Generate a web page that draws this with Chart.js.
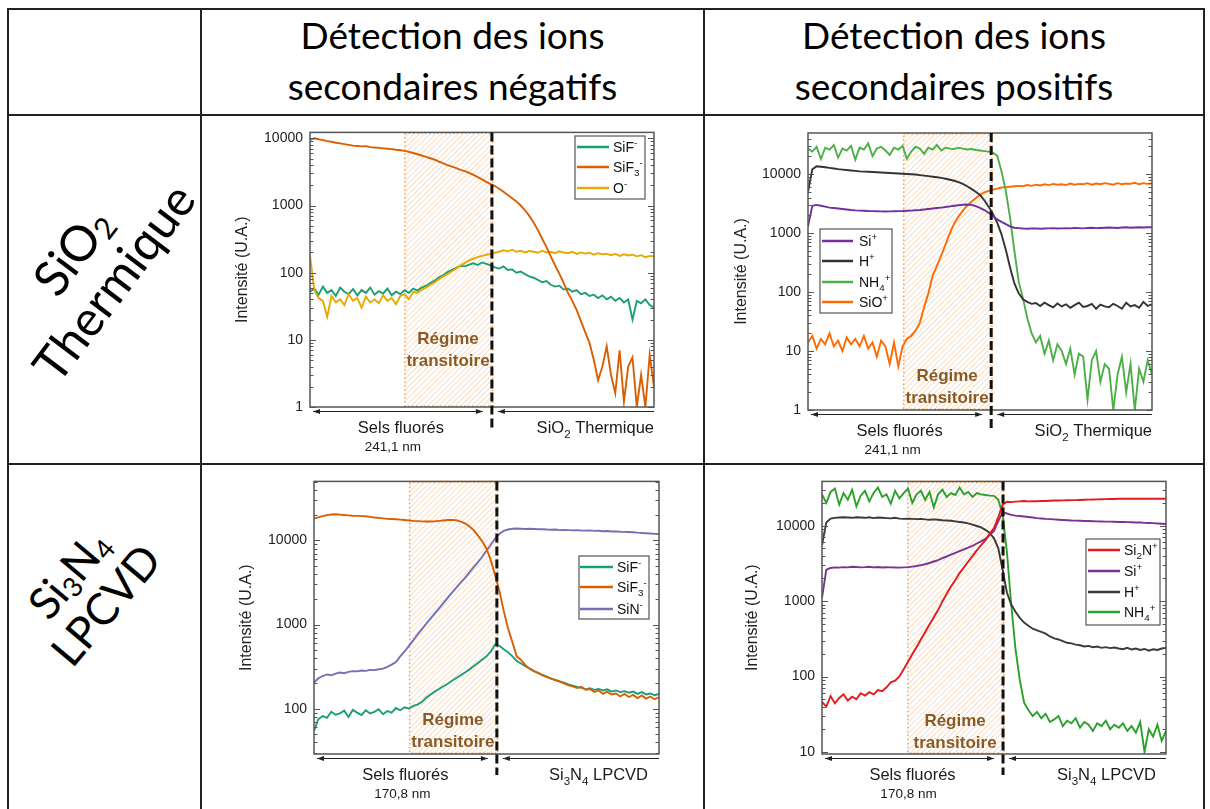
<!DOCTYPE html>
<html><head><meta charset="utf-8">
<script src="https://cdn.jsdelivr.net/npm/chart.js@4.4.0/dist/chart.umd.min.js"></script>
<style>
html,body{margin:0;padding:0;background:#fff;}
body{width:1210px;height:809px;overflow:hidden;position:relative;font-family:Lato,sans-serif;color:#000;}
.hl{position:absolute;background:#222;height:2px}
.vl{position:absolute;background:#222;width:2px}
.hdr{position:absolute;text-align:center;font-size:37px;line-height:51px;white-space:nowrap}
.side{position:absolute;width:320px;height:100px;font-size:44px;line-height:48px;text-align:center;transform:rotate(-50deg);white-space:nowrap}
.side.s1{height:104px;font-size:49px;line-height:52px;transform:rotate(-53deg)}
.side sub{font-size:0.62em;vertical-align:-0.18em;line-height:0}
canvas{position:absolute}
</style></head>
<body>
<div class="hl" style="left:7px;top:8px;width:1198px"></div>
<div class="hl" style="left:7px;top:114px;width:1198px"></div>
<div class="hl" style="left:7px;top:463px;width:1198px"></div>
<div class="vl" style="left:7px;top:8px;height:801px"></div>
<div class="vl" style="left:200px;top:8px;height:801px"></div>
<div class="vl" style="left:703px;top:8px;height:801px"></div>
<div class="vl" style="left:1203px;top:8px;height:801px"></div>
<div class="hdr" style="left:202px;width:501px;top:9px">Détection des ions<br>secondaires négatifs</div>
<div class="hdr" style="left:705px;width:498px;top:9px">Détection des ions<br>secondaires positifs</div>
<div class="side s1" style="left:-68px;top:214px">SiO<sub>2</sub><br>Thermique</div>
<div class="side" style="left:-72px;top:540px">Si<sub>3</sub>N<sub>4</sub><br>LPCVD</div>
<script>
// ---------- DATA (sample index 0..80 along the sputtering depth) ----------
const Y_TITLE = 'Intensité (U.A.)';
const P1_LABELS = ['SiF^-', 'SiF_3^-', 'O^-'];
const P1_SIF = [52,58,47,62,50,55,45,60,52,48,
 57,46,55,50,60,47,53,49,58,46,
 52,48,55,50,58,54,60,64,70,76,
 85,92,102,110,118,126,124,132,138,130,
 142,135,128,120,115,124,110,112,100,104,
 95,88,84,78,72,75,66,62,64,56,
 58,52,55,48,50,45,47,42,46,40,
 44,38,42,36,40,20,38,35,40,33,
 30];
const P1_SIF3 = [9500,10000,9700,9400,9100,8900,8600,8400,8200,8000,
 7800,7700,7600,7650,7400,7300,7200,7100,7000,6900,
 6750,6650,6500,6300,6050,5800,5550,5300,5050,4800,
 4500,4250,4000,3800,3600,3400,3250,3050,2850,2650,
 2450,2250,2080,1950,1780,1600,1430,1280,1150,1000,
 850,700,560,430,320,240,175,128,96,70,
 50,38,28,19,13,9,5,2.5,4,8,
 3,1.6,7,1.2,4,5.5,1,3,1,6,
 2];
const P1_O = [180,55,42,38,22,45,36,40,33,48,
 38,42,30,44,36,40,35,46,38,42,
 34,45,48,40,52,50,56,60,66,72,
 80,88,96,105,115,128,140,152,162,170,
 178,185,190,198,205,215,208,220,205,212,
 200,210,205,198,212,200,205,195,208,200,
 195,205,190,200,192,198,185,195,188,190,
 182,190,178,188,180,185,175,182,170,178,
 175];
const P1_TRANSITION = [21.9, 42.3];   // start of transient regime, interface
const P1_THICKNESS = '241,1 nm';

const P2_LABELS = ['Si^+', 'H^+', 'NH_4^+', 'SiO^+'];
const P2_SI = [1300,2900,3000,2900,2800,2700,2650,2600,2550,2500,
 2450,2420,2400,2380,2360,2350,2340,2330,2320,2330,
 2340,2350,2360,2380,2400,2430,2460,2500,2550,2600,
 2650,2700,2760,2830,2900,2960,3020,3050,3000,2850,
 2670,2450,2200,1950,1700,1550,1420,1300,1230,1210,
 1190,1180,1190,1200,1180,1190,1200,1210,1190,1200,
 1210,1200,1220,1210,1200,1220,1230,1210,1220,1230,
 1240,1230,1220,1240,1250,1230,1240,1250,1240,1250,
 1250];
const P2_H = [5000,12000,13500,13300,13000,12700,12400,12100,11900,11700,
 11500,11300,11100,11000,10900,10800,10700,10600,10500,10400,
 10300,10200,10100,10000,9900,9800,9600,9400,9200,9000,
 8800,8600,8300,8000,7700,7300,6800,6200,5600,5000,
 4400,3600,2800,2100,1500,950,520,260,140,95,
 75,68,63,65,58,66,60,55,64,57,
 62,54,60,66,56,58,63,52,61,57,
 55,63,58,52,66,57,60,54,68,58,
 62];
const P2_NH4 = [27000,24000,29000,18000,28000,26000,31000,19000,27000,25000,
 30000,17500,28000,26000,33000,20000,27000,29000,25000,21000,
 28000,26000,30000,18000,24000,29000,27000,22000,28000,26000,
 31000,25000,28000,27000,26500,28000,27000,26000,26500,25500,
 25000,24500,24000,23000,20500,11000,5200,1800,500,150,
 78,36,20,14,18,9,15,7,13,10,
 6,11,4,9,8,1.5,7,10,3,6,
 5,1,4,8,2,6,1,5,3,7,
 4];
const P2_SIO = [14,18,11,16,13,20,12,15,10,17,
 13,16,12,18,11,14,8,15,12,6,
 14,5.5,12,16,18,22,30,55,95,190,
 280,420,640,1000,1450,1900,2400,2900,3380,3900,
 4400,4900,5200,5450,5650,5900,6000,6100,6200,6300,
 6200,6500,6300,6600,6400,6700,6500,6800,6600,6700,
 6500,6900,6600,6800,6700,7000,6600,6900,6700,7000,
 6800,6600,7000,6700,6900,6800,7100,6700,7000,6800,
 6900];
const P2_TRANSITION = [22.1, 42.6];
const P2_THICKNESS = '241,1 nm';

const P3_LABELS = ['SiF^-', 'SiF_3^-', 'SiN^-'];
const P3_SIF = [55,75,82,78,92,85,88,95,80,97,
 90,84,96,88,92,99,86,94,90,102,
 96,104,100,108,112,120,135,148,160,172,
 185,198,215,232,250,270,292,320,350,385,
 420,480,580,560,510,470,420,370,345,320,
 300,280,268,252,240,228,220,212,205,195,
 188,182,178,170,175,168,172,165,170,160,
 165,158,162,155,160,150,158,148,152,145,
 150];
const P3_SIF3 = [18200,18800,19500,20000,20400,20500,20300,20100,19900,19700,
 19600,19500,19400,19100,18800,18600,18300,18100,18000,17900,
 17700,17500,17300,17100,17000,16900,16800,16800,16900,17100,
 17300,17500,17600,17400,16800,16000,14800,13300,11500,9800,
 8000,5800,3900,2500,1450,900,620,420,380,330,
 300,280,265,250,240,228,218,210,200,190,
 185,176,182,168,172,158,165,150,160,148,
 152,140,150,138,146,134,144,132,140,130,
 137];
const P3_SIN = [205,230,245,256,250,262,270,265,275,280,
 278,285,282,290,288,295,300,315,335,360,
 420,480,560,650,760,880,1020,1180,1360,1560,
 1800,2080,2400,2750,3150,3600,4150,4800,5500,6400,
 7600,8900,10500,12000,13000,13500,13800,13900,13800,13700,
 13800,13700,13600,13650,13500,13400,13500,13300,13350,13300,
 13200,13300,13150,13100,13200,13000,13050,12900,12950,12800,
 12800,12700,12650,12600,12550,12400,12300,12200,12100,12000,
 11960];
const P3_TRANSITION = [22.0, 42.4];
const P3_THICKNESS = '170,8 nm';

const P4_LABELS = ['Si_2N^+', 'Si^+', 'H^+', 'NH_4^+'];
const P4_SI2N = [46,40,55,44,52,58,48,54,50,60,
 56,62,58,66,64,72,84,88,100,125,
 157,197,247,310,390,488,610,760,990,1250,
 1560,1900,2350,2800,3350,3950,4700,5500,6380,7800,
 9300,13000,19000,20700,20500,20800,21000,21200,21000,21100,
 21100,21300,21200,21400,21500,21500,21600,21700,21800,21800,
 21900,22000,22100,22200,22300,22400,22500,22600,22600,22700,
 22700,22700,22700,22800,22700,22700,22800,22700,22700,22700,
 22700];
const P4_SI = [1100,2600,2750,2800,2780,2820,2800,2850,2830,2800,
 2820,2850,2800,2830,2790,2810,2800,2790,2780,2800,
 2820,2860,2920,3000,3080,3200,3350,3500,3700,3900,
 4120,4350,4600,4850,5100,5400,5800,6200,6700,7500,
 8600,11500,15000,14500,13900,13600,13400,13200,13000,12800,
 12600,12450,12300,12200,12100,12000,11900,11800,11700,11650,
 11600,11550,11500,11450,11400,11350,11300,11300,11250,11200,
 11200,11150,11100,11000,11000,10900,10850,10800,10700,10600,
 10500];
const P4_H = [5500,11000,12400,12700,12800,12900,12800,12700,12900,12800,
 12700,12900,12600,12800,12700,12600,12500,12700,12400,12300,
 12400,12300,12200,12300,12100,12000,12100,11950,11800,11700,
 11600,11400,11200,11000,10700,10300,9900,9500,8800,8000,
 6800,5000,2600,1300,900,720,600,520,470,430,
 410,390,370,340,320,310,295,280,275,265,
 260,250,255,245,250,240,245,238,242,235,
 230,240,228,235,225,232,220,230,225,235,
 240];
const P4_NH4 = [26000,20000,28000,31000,19000,27000,22000,30000,18000,25000,
 29000,21000,27000,32000,24000,26000,19500,29000,23000,27000,
 31000,20000,26000,29000,22000,28000,17500,26000,30000,24000,
 27000,25500,32000,26000,28000,24000,27000,26000,25500,25000,
 24800,22000,14000,4500,900,230,90,45,36,30,
 34,28,32,25,27,30,22,26,24,28,
 21,25,23,19,24,22,26,20,23,21,
 24,19,22,18,25,10,20,16,23,14,
 19];
const P4_TRANSITION = [19.8, 42.1];
const P4_THICKNESS = '170,8 nm';

const TICKS_FULL = [1, 10, 100, 1000, 10000];
const TICKS_P3 = [100, 1000, 10000];
const TICKS_P4 = [10, 100, 1000, 10000];

// ---------- rendering helpers ----------
const AX_FONT = "'Liberation Sans', Arial, sans-serif";
function richParts(s){
  const parts=[]; let buf=''; let i=0;
  while(i<s.length){
    const c=s[i];
    if((c==='_'||c==='^') && i+1<s.length){
      if(buf){parts.push({t:buf,k:'n'});buf='';}
      parts.push({t:s[i+1],k:c==='_'?'sub':'sup'}); i+=2;
    } else {buf+=c;i++;}
  }
  if(buf) parts.push({t:buf,k:'n'});
  return parts;
}
function drawRich(ctx, s, x, yMid, align, size, weight){
  const parts=richParts(s);
  const small=size*0.7;
  const fN=(weight||'normal')+' '+size+'px '+AX_FONT;
  const fS=(weight||'normal')+' '+small+'px '+AX_FONT;
  let w=0;
  parts.forEach(p=>{ctx.font=p.k==='n'?fN:fS; p.w=ctx.measureText(p.t).width; w+=p.w;});
  let cx = align==='center' ? x-w/2 : (align==='right' ? x-w : x);
  const base = yMid + size*0.36;
  ctx.textAlign='left'; ctx.textBaseline='alphabetic';
  parts.forEach(p=>{
    ctx.font=p.k==='n'?fN:fS;
    const dy = p.k==='sub' ? size*0.28 : (p.k==='sup' ? -size*0.42 : 0);
    ctx.fillText(p.t, cx, base+dy); cx+=p.w;
  });
}
function arrowHead(ctx,x,y,dir){
  ctx.beginPath(); ctx.moveTo(x,y); ctx.lineTo(x-dir*7,y-2.6); ctx.lineTo(x-dir*7,y+2.6); ctx.closePath(); ctx.fill();
}

function panelPlugin(cfg){
  return {
    id:'panelDeco',
    beforeDatasetsDraw(chart){
      const {ctx, chartArea:a, scales:{x}} = chart;
      const x0=x.getPixelForValue(cfg.transition[0]), x1=x.getPixelForValue(cfg.transition[1]);
      const h=a.bottom-a.top;
      ctx.save();
      ctx.beginPath(); ctx.rect(x0,a.top,x1-x0,h); ctx.clip();
      ctx.strokeStyle='#f8d1ae'; ctx.lineWidth=1;
      for(let s=x0-h; s<x1; s+=5.5){ctx.beginPath(); ctx.moveTo(s,a.bottom); ctx.lineTo(s+h,a.top); ctx.stroke();}
      ctx.restore();
      ctx.save(); ctx.setLineDash([1.5,2.5]); ctx.strokeStyle='#f2a55a'; ctx.lineWidth=1.5;
      ctx.strokeRect(x0+0.75,a.top+0.75,x1-x0,h-1.5); ctx.restore();
    },
    afterDatasetsDraw(chart){
      const {ctx, chartArea:a, scales:{x,y}} = chart;
      const xi=x.getPixelForValue(cfg.transition[1]);
      const x0=x.getPixelForValue(cfg.transition[0]);
      ctx.save();
      ctx.strokeStyle='#555'; ctx.lineWidth=1.5;
      ctx.strokeRect(a.left,a.top,a.right-a.left,a.bottom-a.top);
      ctx.lineWidth=1;
      const lo=Math.floor(Math.log10(y.min)), hi=Math.ceil(Math.log10(y.max));
      for(let d=lo; d<=hi; d++){
        for(let m=1; m<=9; m++){
          const v=m*Math.pow(10,d);
          if(v<y.min*0.999||v>y.max*1.001) continue;
          const py=Math.round(y.getPixelForValue(v))+0.5;
          const L = m===1?6:3.5;
          ctx.beginPath(); ctx.moveTo(a.left,py); ctx.lineTo(a.left+L,py);
          ctx.moveTo(a.right,py); ctx.lineTo(a.right-L,py); ctx.stroke();
        }
      }
      ctx.strokeStyle='#111'; ctx.lineWidth=3; ctx.setLineDash([9,4]);
      ctx.beginPath(); ctx.moveTo(xi,a.top); ctx.lineTo(xi,a.bottom+21); ctx.stroke();
      ctx.setLineDash([]);
      ctx.fillStyle='#8a5a24';
      drawRich(ctx,'Régime',(x0+xi)/2,a.bottom+cfg.regimeDy[0],'center',17,'bold');
      drawRich(ctx,'transitoire',(x0+xi)/2,a.bottom+cfg.regimeDy[1],'center',17,'bold');
      const L=cfg.legend, ox=chart.canvas.offsetLeft, oy=chart.canvas.offsetTop;
      ctx.fillStyle='#fff'; ctx.fillRect(L.x-ox,L.y-oy,L.w,L.h);
      ctx.strokeStyle='#555'; ctx.lineWidth=1.2; ctx.strokeRect(L.x-ox,L.y-oy,L.w,L.h);
      chart.data.datasets.forEach((ds,i)=>{
        const ry=L.rows[i]-oy;
        ctx.strokeStyle=ds.borderColor; ctx.lineWidth=2.5;
        ctx.beginPath(); ctx.moveTo(L.l0-ox,ry); ctx.lineTo(L.l1-ox,ry); ctx.stroke();
        ctx.fillStyle='#111';
        drawRich(ctx,ds.label,L.tx-ox,ry,'left',14);
      });
      ctx.strokeStyle='#222'; ctx.fillStyle='#222'; ctx.lineWidth=1;
      const ay=a.bottom+4.5;
      ctx.beginPath(); ctx.moveTo(a.left+3,ay); ctx.lineTo(xi-9,ay);
      ctx.moveTo(xi+6,ay); ctx.lineTo(a.right,ay); ctx.stroke();
      arrowHead(ctx,a.left+3,ay,-1); arrowHead(ctx,xi-9,ay,1); arrowHead(ctx,xi+6,ay,-1);
      ctx.fillStyle='#1a1a1a';
      drawRich(ctx,'Sels fluorés',(a.left+xi)/2,a.bottom+20,'center',16.5);
      drawRich(ctx,cfg.thickness,(a.left+xi)/2+cfg.nmDx,a.bottom+39,'center',13.5);
      drawRich(ctx,cfg.layer,a.right+cfg.layerDx,a.bottom+20,'right',16.5);
      ctx.restore();
    }
  };
}

function makePanel(cfg){
  const c=document.createElement('canvas');
  c.width=cfg.box.w; c.height=cfg.box.h;
  c.style.left=cfg.box.left+'px'; c.style.top=cfg.box.top+'px';
  c.style.width=cfg.box.w+'px'; c.style.height=cfg.box.h+'px';
  document.body.appendChild(c);
  const A=cfg.area, B=cfg.box, PL=12;
  new Chart(c,{
    type:'line',
    data:{datasets:cfg.series.map(s=>({
      label:s.label, data:s.values.map((v,i)=>({x:i,y:v})),
      borderColor:s.color, backgroundColor:s.color, borderWidth:1.9,
      pointRadius:0, tension:0, fill:false, order:s.order||0
    }))},
    options:{
      responsive:false, animation:false, devicePixelRatio:1,
      layout:{padding:{left:PL, top:A.top-B.top, right:(B.left+B.w)-A.right, bottom:(B.top+B.h)-A.bottom}},
      scales:{
        x:{type:'linear', min:0, max:80, display:false},
        y:{type:'logarithmic', min:cfg.yMin, max:cfg.yMax,
           grid:{display:false, drawTicks:false}, border:{display:false},
           ticks:{padding:7, color:'#222', font:{family:AX_FONT, size:14}, autoSkip:false, callback:v=>String(v)},
           afterBuildTicks:s=>{ s.ticks = cfg.ticks.map(v=>({value:v})); },
           afterFit:s=>{ s.width = A.left-B.left-PL; },
           title:{display:true, text:Y_TITLE, color:'#222', font:{family:AX_FONT, size:16},
                  padding:{top:cfg.titleX-B.left-PL-9.6, bottom:0}}
        }
      },
      plugins:{legend:{display:false}, tooltip:{enabled:false}}
    },
    plugins:[panelPlugin(cfg)]
  });
}

makePanel({
  box:{left:203,top:117,w:500,h:346}, area:{left:310,top:130,right:654,bottom:407}, titleX:243,
  yMin:1, yMax:12260, ticks:TICKS_FULL, transition:P1_TRANSITION, regimeDy:[-69,-47],
  thickness:P1_THICKNESS, nmDx:-8, layer:'SiO_2 Thermique', layerDx:0,
  legend:{x:575,y:136,w:70,h:63,l0:577,l1:609,tx:613,rows:[147,167,188]},
  series:[
    {label:P1_LABELS[0], values:P1_SIF, color:'#1b9e77', order:1},
    {label:P1_LABELS[1], values:P1_SIF3, color:'#d95f02', order:0},
    {label:P1_LABELS[2], values:P1_O, color:'#e6ab02', order:0}
  ]
});
makePanel({
  box:{left:706,top:117,w:497,h:346}, area:{left:808,top:133,right:1152,bottom:410}, titleX:742,
  yMin:1, yMax:49600, ticks:TICKS_FULL, transition:P2_TRANSITION, regimeDy:[-35,-13],
  thickness:P2_THICKNESS, nmDx:-7, layer:'SiO_2 Thermique', layerDx:0,
  legend:{x:820,y:229,w:72,h:84,l0:822,l1:853,tx:859,rows:[241,261,282,302]},
  series:[
    {label:P2_LABELS[0], values:P2_SI, color:'#7030a0'},
    {label:P2_LABELS[1], values:P2_H, color:'#333333'},
    {label:P2_LABELS[2], values:P2_NH4, color:'#4caf47'},
    {label:P2_LABELS[3], values:P2_SIO, color:'#ff6a00'}
  ]
});
makePanel({
  box:{left:203,top:466,w:500,h:343}, area:{left:314,top:477,right:659,bottom:754}, titleX:247,
  yMin:29, yMax:50400, ticks:TICKS_P3, transition:P3_TRANSITION, regimeDy:[-35,-13],
  thickness:P3_THICKNESS, nmDx:-3, layer:'Si_3N_4 LPCVD', layerDx:-11,
  legend:{x:579,y:556,w:70,h:63,l0:580,l1:613,tx:617,rows:[567,587,609]},
  series:[
    {label:P3_LABELS[0], values:P3_SIF, color:'#1b9e77', order:1},
    {label:P3_LABELS[1], values:P3_SIF3, color:'#d95f02', order:0},
    {label:P3_LABELS[2], values:P3_SIN, color:'#7570b3', order:0}
  ]
});
makePanel({
  box:{left:706,top:466,w:497,h:343}, area:{left:822,top:477,right:1166,bottom:754}, titleX:753,
  yMin:9.4, yMax:38600, ticks:TICKS_P4, transition:P4_TRANSITION, regimeDy:[-34,-12],
  thickness:P4_THICKNESS, nmDx:-4, layer:'Si_3N_4 LPCVD', layerDx:-10,
  legend:{x:1086,y:539,w:74,h:86,l0:1088,l1:1120,tx:1124,rows:[550,571,592,612]},
  series:[
    {label:P4_LABELS[0], values:P4_SI2N, color:'#e41a1c'},
    {label:P4_LABELS[1], values:P4_SI, color:'#7b3294'},
    {label:P4_LABELS[2], values:P4_H, color:'#3a3a3a'},
    {label:P4_LABELS[3], values:P4_NH4, color:'#2ca02c'}
  ]
});
</script>
</body></html>
